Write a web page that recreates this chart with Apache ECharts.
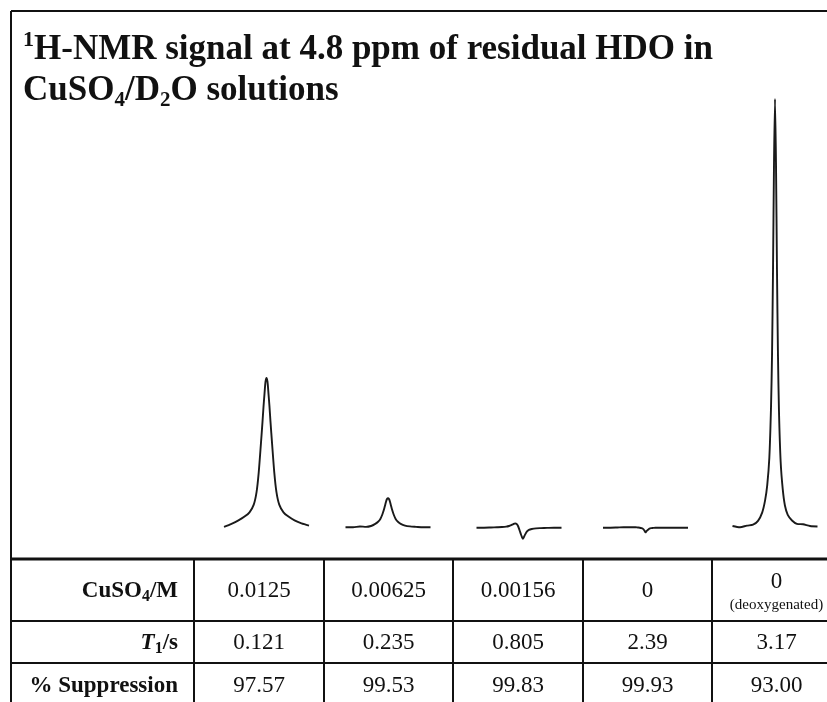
<!DOCTYPE html>
<html>
<head>
<meta charset="utf-8">
<script src="https://cdn.jsdelivr.net/npm/echarts@6/dist/echarts.min.js"></script>
<style>
  html, body { margin: 0; padding: 0; background: #ffffff; }
  #chart { width: 827px; height: 702px; }
</style>
</head>
<body>
<div id="chart"></div>
<script>
// Chemical shift sampling (ppm) shared by the five HDO traces
const ppm = [5.100, 5.047, 4.998, 4.955, 4.920, 4.890, 4.870, 4.855, 4.840, 4.828, 4.821, 4.814, 4.807,
             4.800, 4.793, 4.786, 4.779, 4.772, 4.760, 4.745, 4.730, 4.710, 4.680, 4.645, 4.602, 4.553, 4.500];

// Signal intensity (same scale for all traces)
const signal0125 = [-0.2, 0.5, 1.3, 2.2, 3.2, 5.0, 8.0, 12.5, 19.0, 24.5, 28.0, 31.0, 33.8,
                    34.7, 33.8, 31.0, 28.0, 24.5, 19.0, 12.5, 8.0, 5.0, 3.2, 2.2, 1.3, 0.6, 0.1];
const signal00625 = [-0.3, -0.3, -0.1, -0.2, 0.0, 0.5, 1.0, 1.6, 2.7, 3.9, 4.8, 5.7, 6.3,
                     6.5, 6.3, 5.7, 4.8, 3.9, 2.7, 1.6, 1.0, 0.5, 0.1, -0.1, -0.2, -0.3, -0.3];
const signal00156 = [-0.4, -0.4, -0.35, -0.3, -0.25, -0.15, 0.0, 0.2, 0.45, 0.6, 0.55, 0.4, 0.0,
                     -0.6, -1.3, -2.0, -2.6, -3.0, -2.2, -1.3, -0.9, -0.7, -0.55, -0.5, -0.45, -0.4, -0.4];
const signalZero = [-0.4, -0.4, -0.35, -0.3, -0.3, -0.3, -0.3, -0.35, -0.4, -0.5, -0.6, -0.8, -1.1,
                    -1.5, -1.2, -1.0, -0.8, -0.6, -0.5, -0.45, -0.4, -0.4, -0.4, -0.4, -0.4, -0.4, -0.4];
const signalDeox = [0.0, -0.3, 0.1, 0.3, 1.2, 3.2, 6.0, 9.5, 16.0, 28.0, 40.0, 60.0, 85.0,
                    100.0, 85.0, 60.0, 40.0, 27.0, 15.0, 8.5, 4.8, 2.6, 1.3, 0.5, 0.4, 0.0, -0.1];
const traces = [signal0125, signal00625, signal00156, signalZero, signalDeox];

// Table contents
const concentrations = ['0.0125', '0.00625', '0.00156', '0', '0'];
const t1Values = ['0.121', '0.235', '0.805', '2.39', '3.17'];
const suppression = ['97.57', '99.53', '99.83', '99.93', '93.00'];
const deoxNote = '(deoxygenated)';

// Layout
const SERIF = '"Liberation Serif", "Times New Roman", serif';
const INK = '#111111';
const colEdges = [194, 324, 453, 583, 712, 841];
const rowLines = [559, 621, 663];
const rowCenters = [591, 643, 686];
const traceCenters = [266.5, 388, 519, 645.5, 775];
const traceWidth = 85;

const chart = echarts.init(document.getElementById('chart'), null, { renderer: 'canvas' });

const grids = [], xAxes = [], yAxes = [], series = [];
traces.forEach(function (vals, i) {
  grids.push({ left: traceCenters[i] - traceWidth / 2, width: traceWidth, top: 99, bottom: 154.65 });
  xAxes.push({ gridIndex: i, type: 'value', min: 4.5, max: 5.1, inverse: true, show: false });
  yAxes.push({ gridIndex: i, type: 'value', min: -5, max: 100, show: false });
  series.push({
    type: 'line', xAxisIndex: i, yAxisIndex: i,
    data: ppm.map(function (p, k) { return [p, vals[k]]; }),
    showSymbol: false, smooth: 0.25,
    lineStyle: { color: '#1a1a1a', width: 1.9, join: 'round' },
    silent: true, animation: false
  });
});

const graphics = [];
function line(x1, y1, x2, y2, w) {
  graphics.push({ type: 'line', shape: { x1: x1, y1: y1, x2: x2, y2: y2 },
    style: { stroke: INK, lineWidth: w }, silent: true });
}
function text(x, y, str, opts) {
  graphics.push({ type: 'text', x: x, y: y, silent: true,
    style: Object.assign({ text: str, fill: INK, align: 'center', verticalAlign: 'middle',
      font: '23px ' + SERIF }, opts || {}) });
}

// Frame
line(11, 11, 827, 11, 2);
line(11, 11, 11, 702, 2);

// Table rules
line(11, rowLines[0], 827, rowLines[0], 3);
line(11, rowLines[1], 827, rowLines[1], 2);
line(11, rowLines[2], 827, rowLines[2], 2);
colEdges.slice(0, 5).forEach(function (x) { line(x, rowLines[0], x, 702, 2); });

// Title
const bold = { fontFamily: SERIF, fontWeight: 'bold', fill: INK };
text(23, 29, '{sup|1}{b|H-NMR signal at 4.8 ppm of residual HDO in}\n{b|CuSO}{sub|4}{b|/D}{sub|2}{b|O solutions}', {
  align: 'left', verticalAlign: 'top',
  rich: {
    b: Object.assign({ fontSize: 35, lineHeight: 41 }, bold),
    sup: Object.assign({ fontSize: 22, lineHeight: 34, verticalAlign: 'top' }, bold),
    sub: Object.assign({ fontSize: 21, lineHeight: 24, verticalAlign: 'bottom' }, bold)
  }
});

// Row labels
const labelRich = {
  b: Object.assign({ fontSize: 23, lineHeight: 28 }, bold),
  bi: Object.assign({ fontSize: 23, lineHeight: 28, fontStyle: 'italic' }, bold),
  bs: Object.assign({ fontSize: 16, lineHeight: 18, verticalAlign: 'bottom' }, bold)
};
text(178, rowCenters[0], '{b|CuSO}{bs|4}{b|/M}', { align: 'right', rich: labelRich });
text(178, rowCenters[1], '{bi|T}{bs|1}{b|/s}', { align: 'right', rich: labelRich });
text(178, rowCenters[2], '{b|% Suppression}', { align: 'right', rich: labelRich });

// Cell values
for (let c = 0; c < 5; c++) {
  const cx = (colEdges[c] + colEdges[c + 1]) / 2;
  if (c === 4) {
    text(cx, 582, concentrations[c]);
    text(cx, 605, deoxNote, { font: '15px ' + SERIF });
  } else {
    text(cx, rowCenters[0], concentrations[c]);
  }
  text(cx, rowCenters[1], t1Values[c]);
  text(cx, rowCenters[2], suppression[c]);
}

chart.setOption({
  animation: false,
  backgroundColor: '#ffffff',
  grid: grids,
  xAxis: xAxes,
  yAxis: yAxes,
  series: series,
  graphic: { elements: graphics }
});
</script>
</body>
</html>
